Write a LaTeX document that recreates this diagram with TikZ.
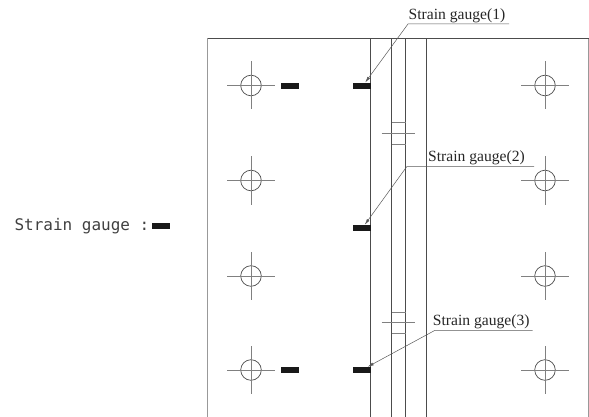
\documentclass[tikz,border=0pt]{standalone}
\usepackage{fontspec}
\setmainfont{Liberation Serif}
\newfontfamily\labelfont{DejaVu Sans Mono}
\usetikzlibrary{arrows.meta}
\usetikzlibrary{positioning}

\begin{document}
\begin{tikzpicture}[x=1pt, y=-1pt, every node/.style={inner sep=0pt}]

% Define styles
\tikzstyle{plate} = [draw=black!70, line width=0.7pt]
\tikzstyle{edge} = [draw=black!40, line width=0.9pt]
\tikzstyle{gauge} = [draw=none, fill=black!90, minimum width=18pt, minimum height=6pt]
\tikzstyle{thin} = [draw=black!50, line width=0.7pt]
\tikzstyle{leader} = [draw=black!65, line width=0.5pt, -{Latex[length=6pt,width=3pt]}]
\tikzstyle{tag} = [font=\fontsize{15.6}{15.6}\selectfont, text=black!85, anchor=base west]

\useasboundingbox (0,0) rectangle (589,417);

% Plate outline
\draw[edge] (207.7,417) -- (207.7,38.3);
\draw[edge] (588.5,38.3) -- (588.5,417);
\draw[plate] (207.7,38.3) -- (588.5,38.3);

% Vertical lines
\foreach \x in {370.7,391.7,405.7,426.7} {
  \draw[plate] (\x,38.3) -- (\x,417);
}

% Bolt holes
\foreach \y in {85.5,180.5,276,370} {
  \foreach \x in {251,545} {
    \draw[plate] (\x,\y) circle (10.3);
    \draw[thin] (\x-24,\y) -- (\x+24,\y);
    \draw[thin] (\x,\y-24) -- (\x,\y+24);
  }
}

% Splices
\foreach \y in {133.3,322.7} {
  \draw[thin] (391.7,\y-10.7) -- (405.7,\y-10.7);
  \draw[thin] (381.7,\y) -- (415.3,\y);
  \draw[thin] (391.7,\y+10.7) -- (405.7,\y+10.7);
}

% Gauges
\node[gauge] (gaugeA) at (361.5,85.7) {};
\node[gauge] (gaugeB) at (361.5,228) {};
\node[gauge] (gaugeC) at (361.5,370) {};
\node[gauge] (gaugeD) at (290,85.7) {};
\node[gauge] (gaugeE) at (290,370) {};

% Labels
\node[tag] (tagA) at (408.5,20) {Strain gauge(1)};
\node[tag] (tagB) at (428,161.7) {Strain gauge(2)};
\node[tag] (tagC) at (432.7,325.3) {Strain gauge(3)};

% Leaders
\coordinate (kneeA) at (408,24);
\coordinate (endA) at (509,24);
\coordinate (kneeB) at (406.7,166.7);
\coordinate (endB) at (534,166.7);
\coordinate (kneeC) at (435,330.3);
\coordinate (endC) at (532.7,330.3);
\draw[leader] (endA) -- (kneeA) -- ([xshift=-5.5pt]gaugeA.north east);
\draw[leader] (endB) -- (kneeB) -- ([xshift=-6pt]gaugeB.north east);
\draw[leader] (endC) -- (kneeC) -- ([xshift=-3pt]gaugeC.north east);

% Legend
\node[anchor=base west, font=\labelfont\fontsize{16}{16}\selectfont, text=black!75] (legend) at (14.3,230.7) {Strain gauge :};
\node[gauge] (legendgauge) at (160.8,225.7) {};

\end{tikzpicture}
\end{document}
